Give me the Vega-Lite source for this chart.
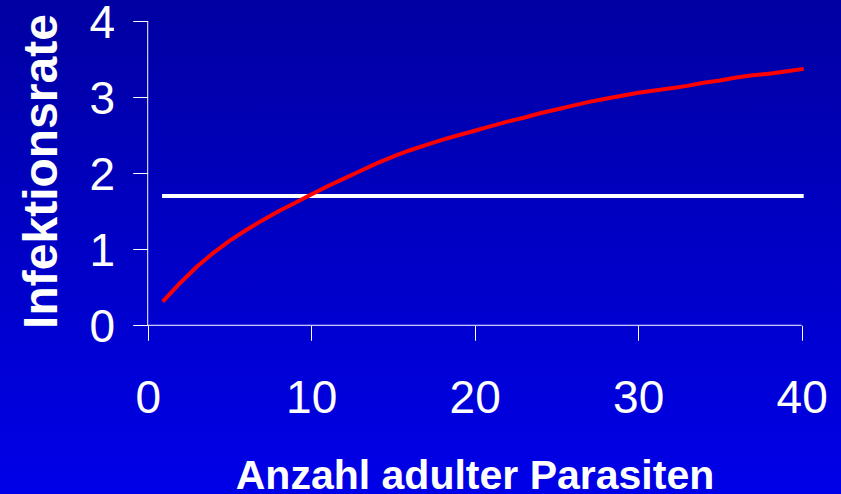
{
  "$schema": "https://vega.github.io/schema/vega-lite/v6.json",
  "width": 841,
  "height": 494,
  "autosize": {"type": "none"},
  "padding": 0,
  "background": "#0000c4",
  "view": {
    "stroke": null,
    "fill": {
      "gradient": "linear",
      "x1": 0, "y1": 0, "x2": 0, "y2": 1,
      "stops": [
        {"offset": 0, "color": "#0000a2"},
        {"offset": 1, "color": "#0000e8"}
      ]
    }
  },
  "config": {"font": "Liberation Sans"},
  "datasets": {
    "kurve": [
      {"n": 1, "rate": 0.33}, {"n": 2, "rate": 0.56}, {"n": 3, "rate": 0.77},
      {"n": 4, "rate": 0.95}, {"n": 5, "rate": 1.11}, {"n": 6, "rate": 1.25},
      {"n": 7, "rate": 1.38}, {"n": 8, "rate": 1.5}, {"n": 9, "rate": 1.61},
      {"n": 10, "rate": 1.72}, {"n": 11, "rate": 1.83}, {"n": 12, "rate": 1.93},
      {"n": 13, "rate": 2.03}, {"n": 14, "rate": 2.13}, {"n": 15, "rate": 2.22},
      {"n": 16, "rate": 2.3}, {"n": 17, "rate": 2.37}, {"n": 18, "rate": 2.44},
      {"n": 19, "rate": 2.5}, {"n": 20, "rate": 2.56}, {"n": 21, "rate": 2.62},
      {"n": 22, "rate": 2.68}, {"n": 23, "rate": 2.73}, {"n": 24, "rate": 2.79},
      {"n": 25, "rate": 2.84}, {"n": 26, "rate": 2.89}, {"n": 27, "rate": 2.94},
      {"n": 28, "rate": 2.98}, {"n": 29, "rate": 3.02}, {"n": 30, "rate": 3.06},
      {"n": 31, "rate": 3.09}, {"n": 32, "rate": 3.12}, {"n": 33, "rate": 3.15},
      {"n": 34, "rate": 3.19}, {"n": 35, "rate": 3.22}, {"n": 36, "rate": 3.26},
      {"n": 37, "rate": 3.29}, {"n": 38, "rate": 3.31}, {"n": 39, "rate": 3.34},
      {"n": 40, "rate": 3.37}
    ],
    "schwelle": [
      {"n": 1, "rate": 1.7},
      {"n": 40, "rate": 1.7}
    ]
  },
  "resolve": {"axis": {"x": "independent", "y": "independent"}},
  "layer": [
    {
      "data": {"values": [{}]},
      "mark": {"type": "rule", "color": "#ffffff", "strokeWidth": 1},
      "encoding": {
        "x": {"datum": 0, "type": "quantitative", "axis": null,
              "scale": {"domain": [-9.034, 42.404], "nice": false, "zero": false}},
        "y": {"datum": 0, "type": "quantitative", "axis": null,
              "scale": {"domain": [-2.22, 4.28], "nice": false, "zero": false}},
        "y2": {"datum": 4}
      }
    },
    {
      "data": {"values": [{}]},
      "mark": {"type": "rule", "color": "#ffffff", "strokeWidth": 1},
      "encoding": {
        "x": {"datum": 0, "type": "quantitative", "axis": null,
              "scale": {"domain": [-9.034, 42.404], "nice": false, "zero": false}},
        "x2": {"datum": 40},
        "y": {"datum": 0, "type": "quantitative", "axis": null,
              "scale": {"domain": [-2.22, 4.28], "nice": false, "zero": false}}
      }
    },
    {
      "data": {"name": "schwelle"},
      "mark": {"type": "line", "color": "#ffffff", "strokeWidth": 4, "strokeCap": "square"},
      "encoding": {
        "x": {"field": "n", "type": "quantitative", "axis": null,
              "scale": {"domain": [-9.034, 42.404], "nice": false, "zero": false}},
        "y": {"field": "rate", "type": "quantitative", "axis": null,
              "scale": {"domain": [-2.22, 4.28], "nice": false, "zero": false}}
      }
    },
    {
      "data": {"name": "kurve"},
      "mark": {"type": "line", "color": "#ff0000", "strokeWidth": 4, "strokeCap": "square"},
      "encoding": {
        "x": {
          "field": "n", "type": "quantitative",
          "scale": {"domain": [-9.034, 42.404], "nice": false, "zero": false},
          "axis": {
            "values": [0, 10, 20, 30, 40],
            "offset": -168.7,
            "domain": false, "grid": false,
            "tickSize": 15, "tickColor": "#ffffff", "tickWidth": 1,
            "labelFontSize": 46, "labelColor": "#ffffff", "labelPadding": 36,
            "labelFlush": false, "labelOverlap": false,
            "title": "Anzahl adulter Parasiten",
            "titleFontSize": 41, "titleFontWeight": "bold", "titleColor": "#ffffff",
            "titleX": 474.5, "titleY": 163.5,
            "titleBaseline": "alphabetic", "titleAlign": "center"
          }
        },
        "y": {
          "field": "rate", "type": "quantitative",
          "scale": {"domain": [-2.22, 4.28], "nice": false, "zero": false},
          "axis": {
            "values": [0, 1, 2, 3, 4],
            "offset": -147.7,
            "domain": false, "grid": false,
            "tickSize": 15, "tickColor": "#ffffff", "tickWidth": 1,
            "labelFontSize": 46, "labelColor": "#ffffff", "labelPadding": 18,
            "labelOffset": 2,
            "labelFlush": false, "labelOverlap": false,
            "title": "Infektionsrate",
            "titleFontSize": 48, "titleFontWeight": "bold", "titleColor": "#ffffff",
            "titleX": -91, "titleY": 171, "titleAngle": -90,
            "titleBaseline": "alphabetic", "titleAlign": "center"
          }
        }
      }
    }
  ]
}
